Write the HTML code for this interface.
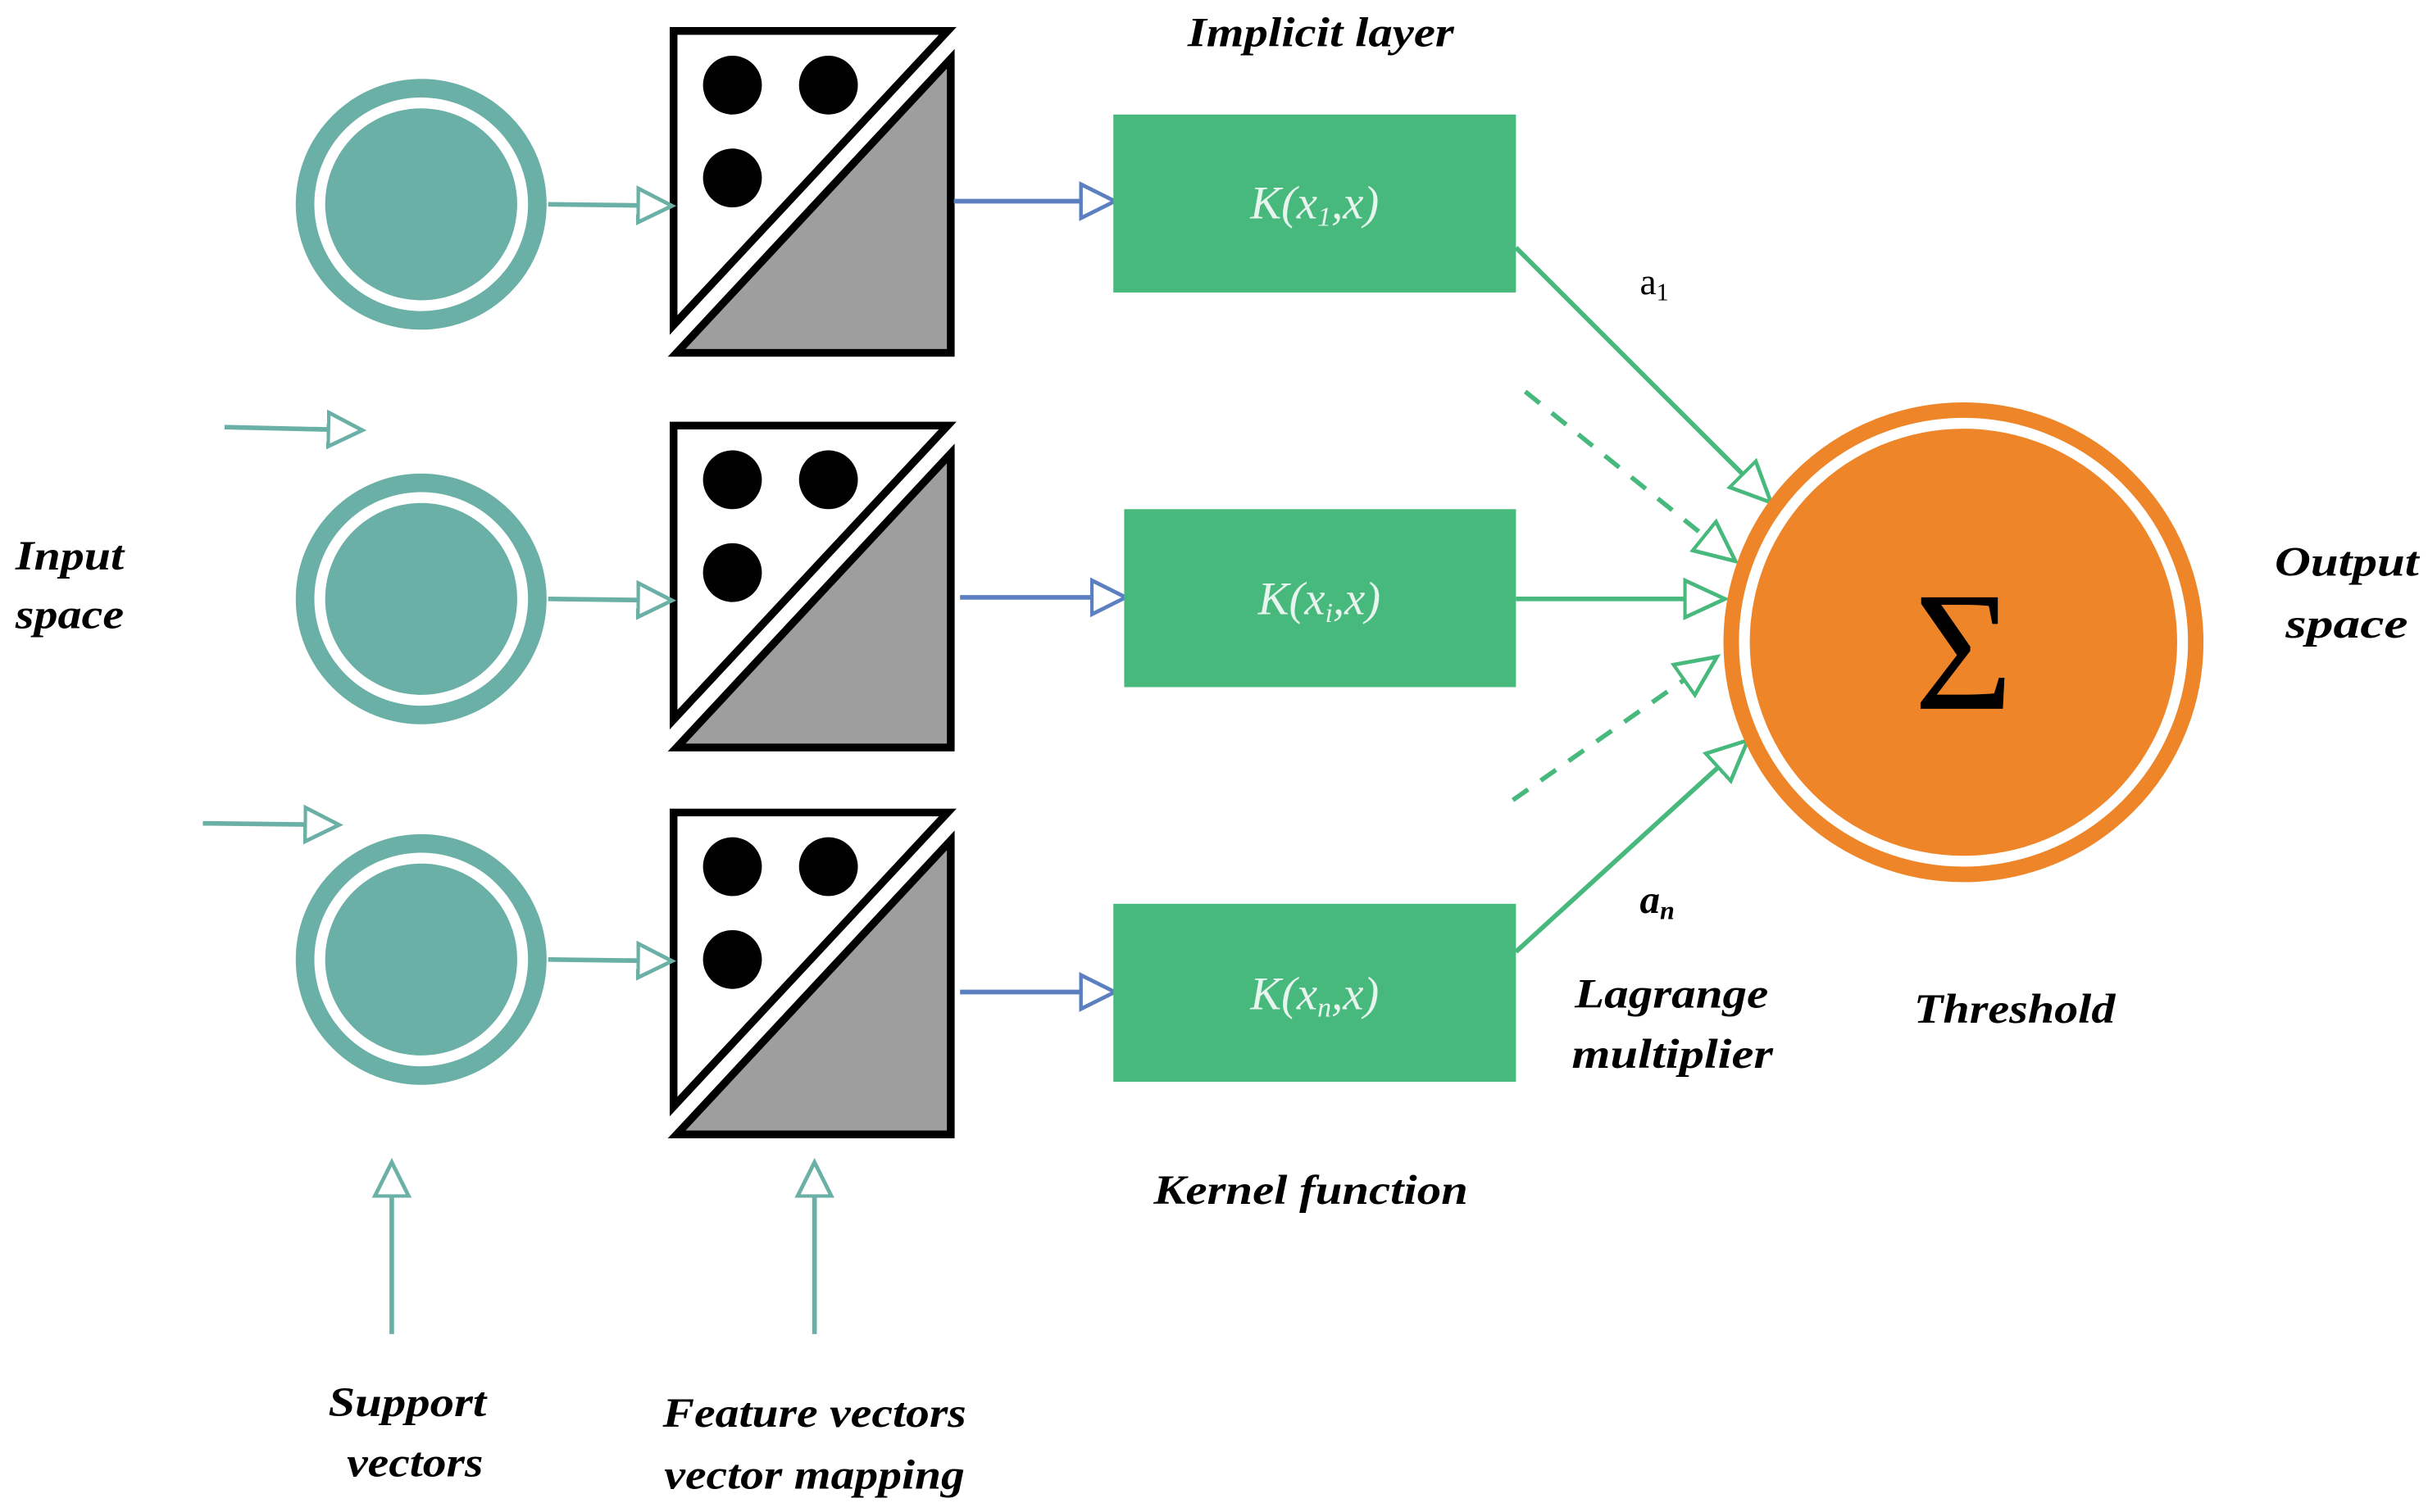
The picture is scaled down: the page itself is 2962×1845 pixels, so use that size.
<!DOCTYPE html>
<html><head><meta charset="utf-8"><style>html,body{margin:0;padding:0;background:#fff}svg{display:block}</style></head><body>
<svg width="2962" height="1845" viewBox="0 0 1568 977" preserveAspectRatio="none" xmlns="http://www.w3.org/2000/svg" font-family="'Liberation Serif', serif">
<defs>
<marker id="ta2" markerWidth="26" markerHeight="26" refX="22" refY="13" orient="auto" markerUnits="userSpaceOnUse"><path d="M1,2 L23,13 L1,24 Z" fill="#fff" stroke="#6BB0A6" stroke-width="2.5"/></marker>
<marker id="ba" markerWidth="26" markerHeight="26" refX="22" refY="13" orient="auto" markerUnits="userSpaceOnUse"><path d="M1,2 L23,13 L1,24 Z" fill="#fff" stroke="#5B7FC0" stroke-width="2.5"/></marker>
<marker id="ga" markerWidth="30" markerHeight="30" refX="26" refY="15" orient="auto" markerUnits="userSpaceOnUse"><path d="M1,3 L27,15 L1,27 Z" fill="#fff" stroke="#48B97D" stroke-width="2.5"/></marker>
<g id="sq">
<polygon points="435,20 612,20 435,210" fill="#fff" stroke="#000" stroke-width="5"/>
<polygon points="614,38 614,228 437,228" fill="#9e9e9e" stroke="#000" stroke-width="5"/>
<circle cx="473" cy="55" r="19" fill="#000"/><circle cx="535" cy="55" r="19" fill="#000"/><circle cx="473" cy="115" r="19" fill="#000"/>
</g>
<g id="ci"><circle cx="0" cy="0" r="75" fill="none" stroke="#6BB0A6" stroke-width="12"/><circle cx="0" cy="0" r="62" fill="#6BB0A6"/></g>
</defs>
<use href="#ci" x="272" y="132"/><use href="#ci" x="272" y="387"/><use href="#ci" x="272" y="620"/>
<use href="#sq"/><use href="#sq" y="255"/><use href="#sq" y="505"/>
<g stroke="#6BB0A6" stroke-width="3" fill="none">
<line x1="354" y1="132" x2="433" y2="133" marker-end="url(#ta2)"/>
<line x1="354" y1="387" x2="433" y2="388" marker-end="url(#ta2)"/>
<line x1="354" y1="620" x2="433" y2="621" marker-end="url(#ta2)"/>
<line x1="145" y1="276" x2="233" y2="278" marker-end="url(#ta2)"/>
<line x1="131" y1="532" x2="218" y2="533" marker-end="url(#ta2)"/>
<line x1="253" y1="862" x2="253" y2="752" marker-end="url(#ta2)"/>
<line x1="526" y1="862" x2="526" y2="752" marker-end="url(#ta2)"/>
</g>
<g stroke="#5B7FC0" stroke-width="3">
<line x1="616" y1="130" x2="719" y2="130" marker-end="url(#ba)"/>
<line x1="620" y1="386" x2="726" y2="386" marker-end="url(#ba)"/>
<line x1="620" y1="641" x2="719" y2="641" marker-end="url(#ba)"/>
</g>
<g fill="#48B97D"><rect x="719" y="74" width="260" height="115"/><rect x="726" y="329" width="253" height="115"/><rect x="719" y="584" width="260" height="115"/></g>
<g fill="#e8f5ee" font-style="italic" font-size="30" text-anchor="middle">
<text x="849" y="141">K(x<tspan font-size="18" dy="5">1</tspan><tspan dy="-5">,x)</tspan></text>
<text x="852" y="397">K(x<tspan font-size="18" dy="5">i</tspan><tspan dy="-5">,x)</tspan></text>
<text x="849" y="652">K(x<tspan font-size="18" dy="5">n</tspan><tspan dy="-5">,x)</tspan></text>
</g>
<g stroke="#48B97D" stroke-width="3">
<line x1="979" y1="160" x2="1143" y2="324" marker-end="url(#ga)"/>
<line x1="985" y1="253" x2="1120" y2="362" stroke-dasharray="12,10" marker-end="url(#ga)"/>
<line x1="979" y1="387" x2="1113" y2="387" marker-end="url(#ga)"/>
<line x1="977" y1="517" x2="1108" y2="425" stroke-dasharray="12,10" marker-end="url(#ga)"/>
<line x1="979" y1="615" x2="1128" y2="479" marker-end="url(#ga)"/>
</g>
<circle cx="1268" cy="415" r="150" fill="none" stroke="#EE8629" stroke-width="10"/>
<circle cx="1268" cy="415" r="138" fill="#EE8629"/>
<text x="1268" y="458" font-size="110" text-anchor="middle" fill="#000">Σ</text>
<g font-style="italic" font-weight="bold" font-size="27" fill="#000">
<text x="767" y="30" textLength="172" lengthAdjust="spacingAndGlyphs">Implicit layer</text>
<text x="10" y="368" textLength="70" lengthAdjust="spacingAndGlyphs">Input</text>
<text x="10" y="406" textLength="70" lengthAdjust="spacingAndGlyphs">space</text>
<text x="1469" y="372" textLength="93" lengthAdjust="spacingAndGlyphs">Output</text>
<text x="1476" y="412" textLength="79" lengthAdjust="spacingAndGlyphs">space</text>
<text x="1017" y="651" textLength="125" lengthAdjust="spacingAndGlyphs">Lagrange</text>
<text x="1015" y="690" textLength="130" lengthAdjust="spacingAndGlyphs">multiplier</text>
<text x="1236" y="661" textLength="130" lengthAdjust="spacingAndGlyphs">Threshold</text>
<text x="745" y="778" textLength="203" lengthAdjust="spacingAndGlyphs">Kernel function</text>
<text x="212" y="915" textLength="102" lengthAdjust="spacingAndGlyphs">Support</text>
<text x="224" y="954" textLength="88" lengthAdjust="spacingAndGlyphs">vectors</text>
<text x="428" y="922" textLength="196" lengthAdjust="spacingAndGlyphs">Feature vectors</text>
<text x="429" y="962" textLength="194" lengthAdjust="spacingAndGlyphs">vector mapping</text>
<text x="1059" y="590" font-size="26">a<tspan font-size="17" dy="4">n</tspan></text>
</g>
<text x="1059" y="190" font-size="24" fill="#000">a<tspan font-size="16" dy="4">1</tspan></text>
</svg>
</body></html>
